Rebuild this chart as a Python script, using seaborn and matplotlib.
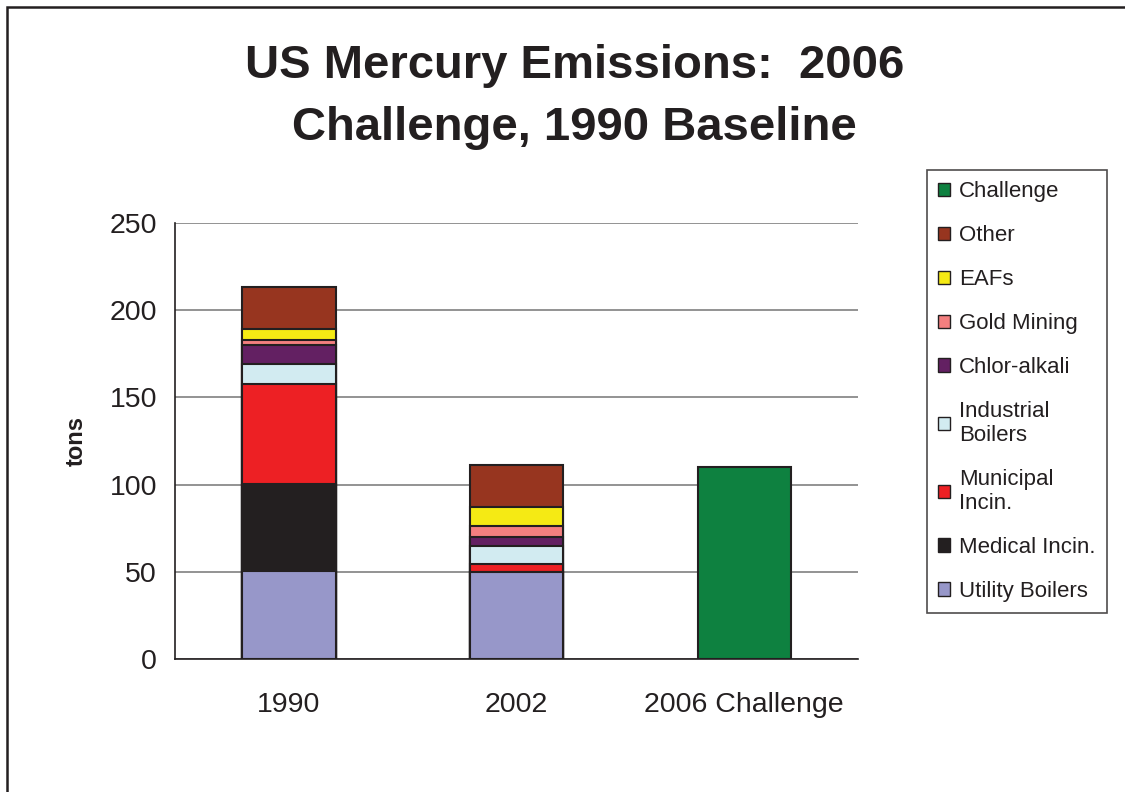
import pandas as pd
import matplotlib
matplotlib.use('Agg')
import matplotlib.pyplot as plt
import matplotlib.patches as mpatches
import seaborn as sns

sns.set_style('white')
plt.rcParams['font.family'] = ['Liberation Sans', 'DejaVu Sans']

# Data (tons)
years = ['1990', '2002', '2006 Challenge']
sources = ['Utility Boilers', 'Medical Incin.', 'Municipal Incin.', 'Industrial Boilers',
           'Chlor-alkali', 'Gold Mining', 'EAFs', 'Other']
legend_labels = ['Utility Boilers', 'Medical Incin.', 'Municipal\nIncin.', 'Industrial\nBoilers',
                 'Chlor-alkali', 'Gold Mining', 'EAFs', 'Other']
utility = [50.5, 50.0, None]
medical = [50.0, 0.0, None]
municipal = [57.4, 4.4, None]
industrial = [11.4, 10.5, None]
chlor_alkali = [10.6, 5.3, None]
gold_mining = [3.2, 5.8, None]
eafs = [6.1, 11.4, None]
other = [24.3, 24.1, None]
challenge = [None, None, 110.0]

colors = ['#9797c9', '#231f20', '#ed2024', '#d2ebf1', '#632062', '#f37f7f', '#f5ea14', '#97351f']
challenge_color = '#0e8140'

df = pd.DataFrame({'year': years, 'Utility Boilers': utility, 'Medical Incin.': medical,
                   'Municipal Incin.': municipal, 'Industrial Boilers': industrial,
                   'Chlor-alkali': chlor_alkali, 'Gold Mining': gold_mining, 'EAFs': eafs,
                   'Other': other, 'Challenge': challenge})
cum = df[sources].astype(float).cumsum(axis=1)
cum['year'] = df['year']

fig = plt.figure(figsize=(11.25, 7.92), dpi=100)
ax = fig.add_axes([0.1556, 0.1679, 0.6071, 0.5505])

# stacked bars: draw the tallest cumulative layer first
for src, col in reversed(list(zip(sources, colors))):
    sns.barplot(data=cum, x='year', y=src, order=years, color=col, width=0.41,
                edgecolor='#231f20', linewidth=1.5, saturation=1, ax=ax)
sns.barplot(data=df, x='year', y='Challenge', order=years, color=challenge_color, width=0.41,
            edgecolor='#231f20', linewidth=1.5, saturation=1, ax=ax)

ax.set_ylim(0, 250)
ax.set_xlim(-0.5, 2.5)
ax.set_yticks([0, 50, 100, 150, 200, 250])
ax.yaxis.grid(True, color='#808080', linewidth=1.2)
ax.set_axisbelow(True)
for s in ['top', 'right']:
    ax.spines[s].set_visible(False)
for s in ['left', 'bottom']:
    ax.spines[s].set_color('#231f20')
    ax.spines[s].set_linewidth(1.2)
ax.set_xticks([-0.5, 0.5, 1.5, 2.5], minor=True)
ax.tick_params(axis='x', which='major', length=0, labelsize=20.5, pad=24, colors='#231f20')
ax.tick_params(axis='x', which='minor', length=7, width=1.2, color='#231f20')
ax.tick_params(axis='y', length=7, width=1.2, labelsize=20.5, pad=6, colors='#231f20')
ax.set_xlabel('')
ax.set_ylabel('tons', fontsize=17, fontweight='bold', labelpad=16, color='#231f20')

fig.text(0.511, 0.917, 'US Mercury Emissions:  2006', ha='center', va='center',
         fontsize=34, fontweight='bold', color='#231f20')
fig.text(0.511, 0.839, 'Challenge, 1990 Baseline', ha='center', va='center',
         fontsize=34, fontweight='bold', color='#231f20')

handles = [mpatches.Patch(facecolor=challenge_color, edgecolor='#231f20', label='Challenge')]
for lab, col in reversed(list(zip(legend_labels, colors))):
    handles.append(mpatches.Patch(facecolor=col, edgecolor='#231f20', label=lab))
leg = fig.legend(handles=handles, loc='upper left', bbox_to_anchor=(0.824, 0.785),
                 bbox_transform=fig.transFigure, fontsize=16, frameon=True, fancybox=False,
                 handlelength=0.55, handleheight=0.55, handletextpad=0.4,
                 labelspacing=1.03, borderpad=0.5, borderaxespad=0)
leg.get_frame().set_edgecolor('#231f20')
leg.get_frame().set_linewidth(1.2)
for t in leg.get_texts():
    t.set_color('#231f20')

# outer frame of the picture (open to the right and bottom)
fig.add_artist(mpatches.Rectangle((7 / 1125, -0.05), 1.1, 1.05 - 7 / 792,
                                  transform=fig.transFigure, fill=False,
                                  edgecolor='#231f20', linewidth=1.8))

fig.savefig('out.png', dpi=100)
